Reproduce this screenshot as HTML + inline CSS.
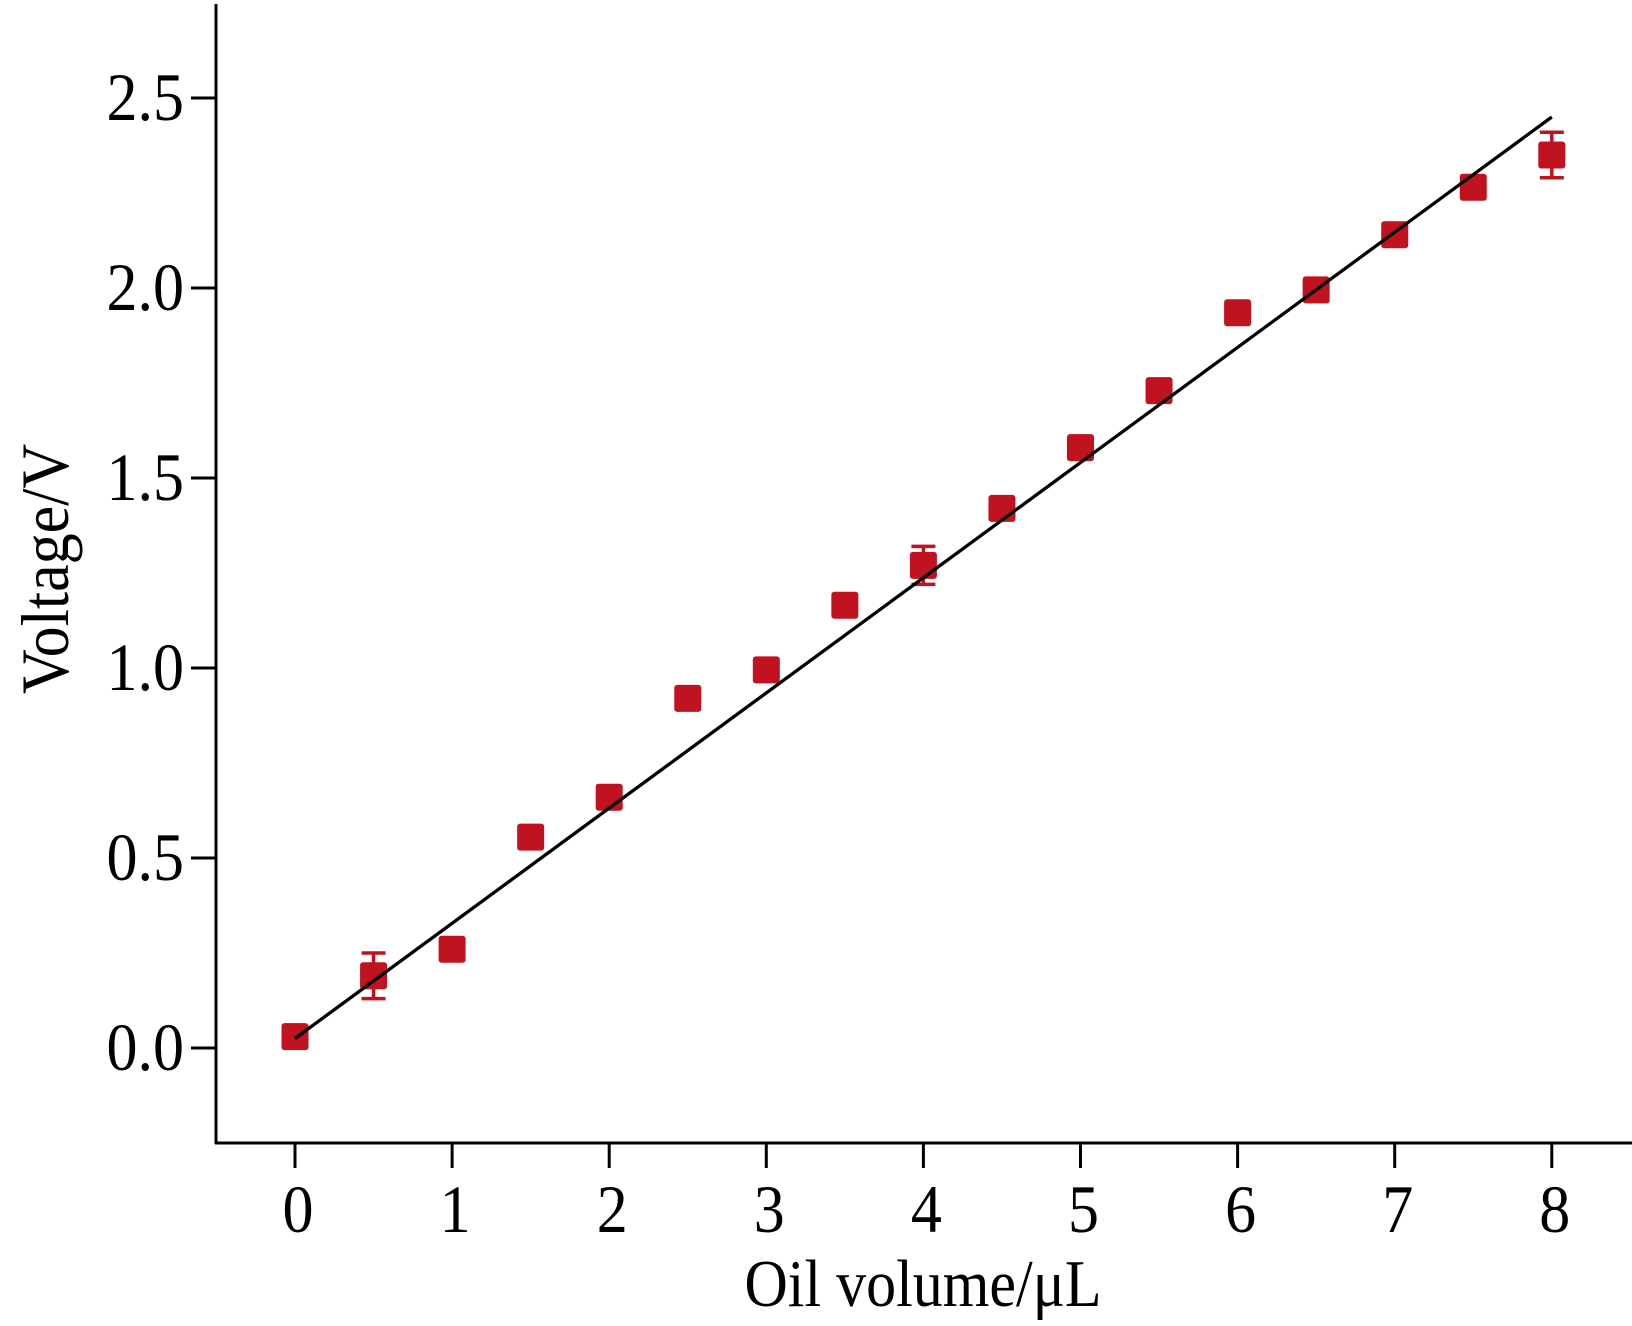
<!DOCTYPE html>
<html><head><meta charset="utf-8"><style>
html,body{margin:0;padding:0;background:#fff;}
svg{display:block;font-family:"Liberation Serif",serif;}
</style></head><body>
<svg id="chart" width="1632" height="1326" viewBox="0 0 1632 1326">
<g id="axes"></g>
<g id="marks"></g>
<text x="923" y="1306" font-size="60" text-anchor="middle" transform="translate(923,1306) scale(1,1.12) translate(-923,-1306)">Oil volume/μL</text>
<text transform="translate(68,569) rotate(-90) scale(1,1.1)" font-size="62" text-anchor="middle">Voltage/V</text>
</svg>
<script>
const xs = [0,0.5,1,1.5,2,2.5,3,3.5,4,4.5,5,5.5,6,6.5,7,7.5,8];
const ys = [0.03,0.19,0.26,0.555,0.66,0.92,0.995,1.165,1.27,1.42,1.58,1.73,1.935,1.995,2.14,2.265,2.35];
const errs = [0,0.06,0,0,0,0,0,0,0.05,0,0,0,0,0,0,0,0.06];
const fitX = [0,8];
const fitY = [0.025,2.45];
const xTicks = [0,1,2,3,4,5,6,7,8];
const yTicks = [0.0,0.5,1.0,1.5,2.0,2.5];

const NS='http://www.w3.org/2000/svg';
function X(v){return 295+v*157.1;}
function Y(v){return 1048-v*380;}
function mk(tag,attrs,parent){const e=document.createElementNS(NS,tag);for(const k in attrs)e.setAttribute(k,attrs[k]);parent.appendChild(e);return e;}
const axes=document.getElementById('axes'), marks=document.getElementById('marks');
let e;
e=mk('line',{x1:216,y1:4,x2:216,y2:1144,stroke:'#000','stroke-width':3},axes);


e=mk('line',{x1:215,y1:1143,x2:1632,y2:1143,stroke:'#000','stroke-width':3},axes);


xTicks.forEach(t=>{
  e=mk('line',{x1:X(t),y1:1143,x2:X(t),y2:1168,stroke:'#000','stroke-width':3},axes);
  
  
  e=mk('text',{x:X(t)+3,y:1232,'font-size':62,'text-anchor':'middle',transform:`translate(0,1232) scale(1,1.1) translate(0,-1232)`},axes);
  e.textContent=String(t);
  
  
});
yTicks.forEach(t=>{
  e=mk('line',{x1:191,y1:Y(t),x2:216,y2:Y(t),stroke:'#000','stroke-width':3},axes);
  
  
  const by=Y(t)+22;
  e=mk('text',{x:184,y:by,'font-size':62,'text-anchor':'end',transform:`translate(0,${by}) scale(1,1.1) translate(0,${-by})`},axes);
  e.textContent=t.toFixed(1);
  
  
});
const col='#c1121f';
xs.forEach((x,i)=>{
  const cx=X(x), cy=Y(ys[i]);
  if(errs[i]>0){
    const t=Y(ys[i]+errs[i]), b=Y(ys[i]-errs[i]);
    e=mk('path',{d:`M${cx},${t}V${b}M${cx-12},${t}H${cx+12}M${cx-12},${b}H${cx+12}`,stroke:col,'stroke-width':3.5,fill:'none'},marks);
    
    
  }
  e=mk('rect',{x:cx-13.5,y:cy-13.5,width:27,height:27,rx:3,fill:col},marks);
  
  
});
e=mk('line',{x1:X(fitX[0]),y1:Y(fitY[0]),x2:X(fitX[1]),y2:Y(fitY[1]),stroke:'#000','stroke-width':3.3},marks);


</script>
</body></html>
